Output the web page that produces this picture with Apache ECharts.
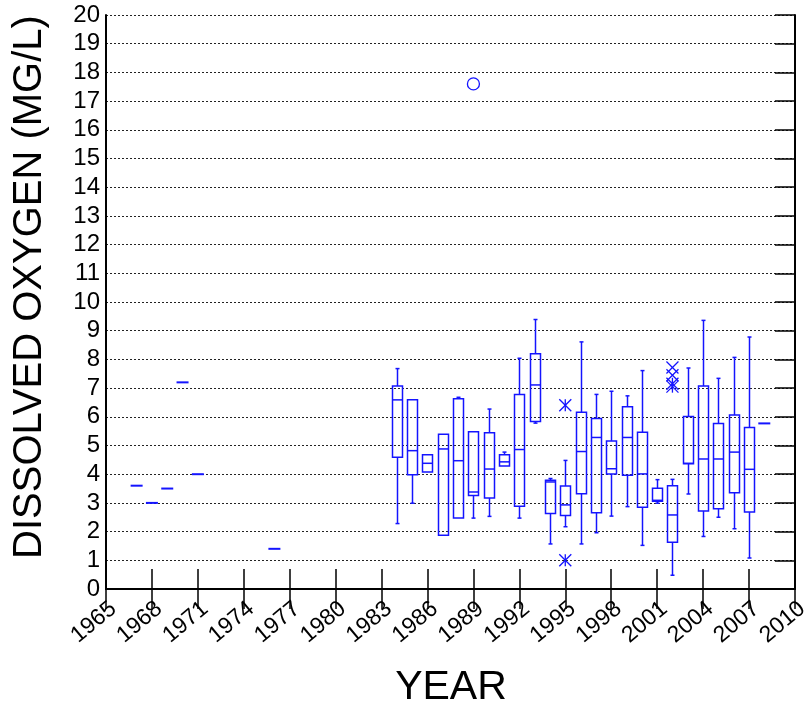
<!DOCTYPE html>
<html>
<head>
<meta charset="utf-8">
<title>Dissolved Oxygen by Year</title>
<script src="https://cdn.jsdelivr.net/npm/echarts@6/dist/echarts.min.js"></script>
<style>
  html, body { margin: 0; padding: 0; background: #ffffff; }
  #chart { width: 812px; height: 711px; }
</style>
</head>
<body>
<div id="chart"></div>
<script>
// Yearly box-plot statistics of dissolved oxygen (mg/L)
const boxYears    = [1984, 1985, 1986, 1987, 1988, 1989, 1990, 1991, 1992, 1993, 1994, 1995, 1996, 1997, 1998, 1999, 2000, 2001, 2002, 2003, 2004, 2005, 2006, 2007];
const whiskerLow  = [2.28, 2.99, 4.08, 1.87, 2.47, 2.47, 2.53, 4.29, 2.47, 5.78, 1.57, 2.17, 1.57, 1.96, 2.54, 2.87, 1.52, 2.99, 0.48, 3.31, 1.83, 2.50, 2.10, 1.08];
const quartile1   = [4.59, 3.98, 4.08, 1.87, 2.47, 3.26, 3.17, 4.29, 2.88, 5.84, 2.63, 2.56, 3.32, 2.66, 4.01, 3.96, 2.85, 3.06, 1.63, 4.36, 2.72, 2.80, 3.35, 2.68];
const medians     = [6.59, 4.82, 4.38, 4.88, 4.47, 3.38, 4.18, 4.43, 4.86, 7.11, 3.73, 2.93, 4.79, 5.28, 4.19, 5.28, 4.01, 3.09, 2.58, 4.38, 4.53, 4.53, 4.77, 4.17];
const quartile3   = [7.07, 6.59, 4.68, 5.39, 6.63, 5.48, 5.44, 4.68, 6.78, 8.20, 3.79, 3.59, 6.16, 5.94, 5.16, 6.35, 5.46, 3.51, 3.60, 6.01, 7.07, 5.77, 6.06, 5.63];
const whiskerHigh = [7.68, 6.59, 4.68, 5.39, 6.68, 5.48, 6.27, 4.77, 8.04, 9.39, 3.85, 4.48, 8.61, 6.78, 6.89, 6.73, 7.61, 3.81, 3.82, 7.70, 9.36, 7.34, 8.07, 8.78];

// Years with a single sample
const singleYears  = [1967, 1968, 1969, 1970, 1971, 1976, 2008];
const singleValues = [3.6, 3.0, 3.5, 7.2, 4.0, 1.4, 5.77];

// Outlying samples by marker type
const circleYears  = [1989];
const circleValues = [17.6];
const crossYears   = [2002, 2002];
const crossValues  = [7.72, 7.45];
const starYears    = [1995, 1995, 2002, 2002];
const starValues   = [6.4, 1.0, 7.15, 7.05];

// Axis ranges and tick steps
const yearMin = 1965, yearMax = 2010, yearStep = 3;
const doMin = 0, doMax = 20, doStep = 1;

const BLUE = '#1414ff';
const FONT = '"Liberation Sans", Arial, sans-serif';

const boxData = boxYears.map((y, i) => [y, whiskerLow[i], quartile1[i], medians[i], quartile3[i], whiskerHigh[i]]);
const singleData = singleYears.map((y, i) => [y, singleValues[i]]);
const outlierData = []
  .concat(circleYears.map((y, i) => [y, circleValues[i], 0]))
  .concat(crossYears.map((y, i) => [y, crossValues[i], 1]))
  .concat(starYears.map((y, i) => [y, starValues[i], 2]));

const lineStyle = { stroke: BLUE, lineWidth: 1.5, fill: null };

function seg(x1, y1, x2, y2, style) {
  return { type: 'line', shape: { x1, y1, x2, y2 }, style: style || lineStyle };
}

function renderBox(params, api) {
  const x = api.value(0);
  const lo = api.coord([x, api.value(1)]);
  const b1 = api.coord([x, api.value(2)]);
  const md = api.coord([x, api.value(3)]);
  const b3 = api.coord([x, api.value(4)]);
  const hi = api.coord([x, api.value(5)]);
  const cx = Math.round(lo[0]) + 0.5;
  const hw = 5, cap = 2;
  const children = [];
  if (hi[1] < b3[1] - 0.5) {
    children.push(seg(cx, hi[1], cx, b3[1]));
    children.push(seg(cx - cap, hi[1], cx + cap, hi[1]));
  }
  if (lo[1] > b1[1] + 0.5) {
    children.push(seg(cx, b1[1], cx, lo[1]));
    children.push(seg(cx - cap, lo[1], cx + cap, lo[1]));
  }
  children.push({
    type: 'rect',
    shape: { x: cx - hw, y: b3[1], width: hw * 2, height: b1[1] - b3[1] },
    style: lineStyle
  });
  children.push(seg(cx - hw, md[1], cx + hw, md[1]));
  return { type: 'group', children };
}

function renderSingle(params, api) {
  const p = api.coord([api.value(0), api.value(1)]);
  return seg(p[0] - 6, p[1], p[0] + 6, p[1], { stroke: BLUE, lineWidth: 2 });
}

function renderOutlier(params, api) {
  const p = api.coord([api.value(0), api.value(1)]);
  const kind = api.value(2);
  const r = 6;
  const st = { stroke: BLUE, lineWidth: 1.3, fill: null };
  if (kind === 0) {
    return { type: 'circle', shape: { cx: p[0], cy: p[1], r: r }, style: st };
  }
  const parts = [
    seg(p[0] - r, p[1] - r, p[0] + r, p[1] + r, st),
    seg(p[0] - r, p[1] + r, p[0] + r, p[1] - r, st)
  ];
  if (kind === 2) parts.push(seg(p[0], p[1] - r, p[0], p[1] + r, st));
  return { type: 'group', children: parts };
}

const chart = echarts.init(document.getElementById('chart'), null, { renderer: 'canvas' });

const frameLine = { show: true, lineStyle: { color: '#000', width: 2 } };
const innerTick = { show: true, inside: true, length: 20, lineStyle: { color: '#000', width: 1.5 } };

chart.setOption({
  animation: false,
  backgroundColor: '#ffffff',
  grid: { left: 106, right: 16, top: 15, bottom: 122, containLabel: false },
  xAxis: [
    {
      type: 'value', position: 'bottom', min: yearMin, max: yearMax, interval: yearStep,
      axisLine: frameLine, axisTick: innerTick, splitLine: { show: false },
      axisLabel: {
        rotate: 40, margin: 8, color: '#000', fontSize: 23, fontFamily: FONT,
        align: 'right', verticalAlign: 'top',
        showMinLabel: true, showMaxLabel: true, formatter: v => String(v)
      }
    },
    {
      type: 'value', position: 'top', min: yearMin, max: yearMax, interval: yearStep,
      axisLine: frameLine, axisTick: innerTick, splitLine: { show: false },
      axisLabel: { show: false }
    }
  ],
  yAxis: [
    {
      type: 'value', position: 'left', min: doMin, max: doMax, interval: doStep,
      axisLine: frameLine, axisTick: { show: false },
      splitLine: { show: true, lineStyle: { color: '#222', width: 1, type: [2, 2] } },
      axisLabel: { margin: 6, color: '#000', fontSize: 24, fontFamily: FONT }
    },
    {
      type: 'value', position: 'right', min: doMin, max: doMax, interval: doStep,
      axisLine: frameLine, axisTick: innerTick, splitLine: { show: false },
      axisLabel: { show: false }
    }
  ],
  graphic: [
    {
      type: 'text', x: 30, y: 287, rotation: Math.PI / 2,
      style: {
        text: 'DISSOLVED OXYGEN (MG/L)', fill: '#000', fontSize: 40, fontFamily: FONT,
        align: 'center', verticalAlign: 'middle'
      }
    },
    {
      type: 'text', x: 451, y: 688,
      style: {
        text: 'YEAR', fill: '#000', fontSize: 41, fontFamily: FONT,
        align: 'center', verticalAlign: 'middle'
      }
    }
  ],
  series: [
    {
      type: 'custom', name: 'box', renderItem: renderBox, data: boxData,
      encode: { x: 0, y: [1, 2, 3, 4, 5] }, xAxisIndex: 0, yAxisIndex: 0, z: 5
    },
    {
      type: 'custom', name: 'single', renderItem: renderSingle, data: singleData,
      encode: { x: 0, y: 1 }, xAxisIndex: 0, yAxisIndex: 0, z: 5
    },
    {
      type: 'custom', name: 'outliers', renderItem: renderOutlier, data: outlierData,
      encode: { x: 0, y: 1 }, xAxisIndex: 0, yAxisIndex: 0, z: 6
    }
  ]
});
</script>
</body>
</html>
